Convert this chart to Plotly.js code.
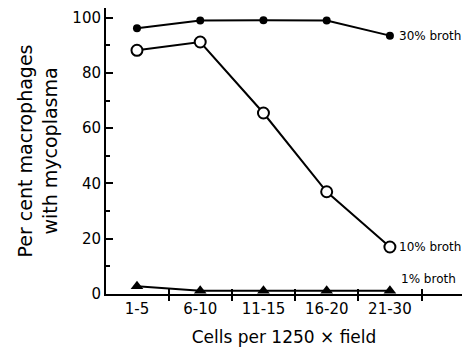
<!DOCTYPE html>
<html><head><meta charset="utf-8">
<script src="https://cdn.plot.ly/plotly-3.0.1.min.js"></script>
<style>body{margin:0;background:#fff}#c{width:462px;height:352px}</style>
</head><body><div id="c"></div>
<script>
const categories = ["1-5", "6-10", "11-15", "16-20", "21-30"];
const broth30 = [96.2, 99.0, 99.1, 99.0, 93.5];
const broth10 = [88.2, 91.2, 65.5, 37.0, 17.0];
const broth1 = [2.8, 1.2, 1.2, 1.2, 1.2];
const seriesLabels = ["30% broth", "10% broth", "1% broth"];
const yTickVals = [0, 20, 40, 60, 80, 100];

const xi = categories.map((_, i) => i);
const line = {color: "#000", width: 2};
const traces = [
  {x: xi, y: broth30, mode: "lines+markers", line: line, cliponaxis: false,
   marker: {symbol: "circle", size: 8, color: "#000"}},
  {x: xi, y: broth10, mode: "lines+markers", line: line, cliponaxis: false,
   marker: {symbol: "circle", size: 11, color: "#fff", line: {color: "#000", width: 2}}},
  {x: xi, y: broth1, mode: "lines+markers", line: line, cliponaxis: false,
   marker: {symbol: "triangle-up", size: 11, color: "#000"}}
];
const fnt = "DejaVu Sans, sans-serif";
const boundaries = [0.5, 1.5, 2.5, 3.5, 4.5];
const layout = {
  width: 462, height: 352,
  margin: {l: 106, r: 0, t: 8, b: 58},
  paper_bgcolor: "#fff", plot_bgcolor: "#fff",
  showlegend: false,
  xaxis: {
    range: [-0.49, 5.14], showgrid: false, zeroline: false,
    showline: true, linecolor: "#000", linewidth: 2,
    tickmode: "array", tickvals: xi, ticktext: categories,
    ticks: "", tickfont: {family: fnt, size: 15, color: "#000"},
    minor: {tickmode: "array", tickvals: boundaries, ticks: "outside", ticklen: 5, tickwidth: 2, tickcolor: "#000"},
    title: {text: "Cells per 1250 \u00d7 field", font: {family: fnt, size: 17, color: "#000"}, standoff: 14}
  },
  xaxis2: {
    overlaying: "x", range: [-0.49, 5.14], side: "bottom", showgrid: false, zeroline: false,
    tickmode: "array", tickvals: boundaries, showticklabels: false,
    ticks: "inside", ticklen: 5, tickwidth: 2, tickcolor: "#000"
  },
  yaxis: {
    range: [0, 103.5], showgrid: false, zeroline: false,
    showline: true, linecolor: "#000", linewidth: 2,
    tickmode: "array", tickvals: yTickVals,
    ticks: "inside", ticklen: 7, tickwidth: 2, tickcolor: "#000",
    minor: {dtick: 10, ticks: "inside", ticklen: 4, tickwidth: 2, tickcolor: "#000"},
    tickfont: {family: fnt, size: 15, color: "#000"},
    title: {text: "Per cent macrophages<br>with mycoplasma", font: {family: fnt, size: 19, color: "#000"}, standoff: 10}
  },
  annotations: [
    {x: 4, y: broth30[4], xref: "x", yref: "y", text: seriesLabels[0], showarrow: false, xanchor: "left", xshift: 7, font: {family: fnt, size: 12, color: "#000"}},
    {x: 4, y: broth10[4], xref: "x", yref: "y", text: seriesLabels[1], showarrow: false, xanchor: "left", xshift: 7, font: {family: fnt, size: 12, color: "#000"}},
    {x: 4, y: broth1[4], xref: "x", yref: "y", text: seriesLabels[2], showarrow: false, xanchor: "left", xshift: 9, yshift: 12, font: {family: fnt, size: 12, color: "#000"}}
  ]
};
traces.push({x: [0], y: [0], xaxis: "x2", mode: "markers", marker: {opacity: 0}, hoverinfo: "skip"});
Plotly.newPlot("c", traces, layout, {staticPlot: true});
</script></body></html>
